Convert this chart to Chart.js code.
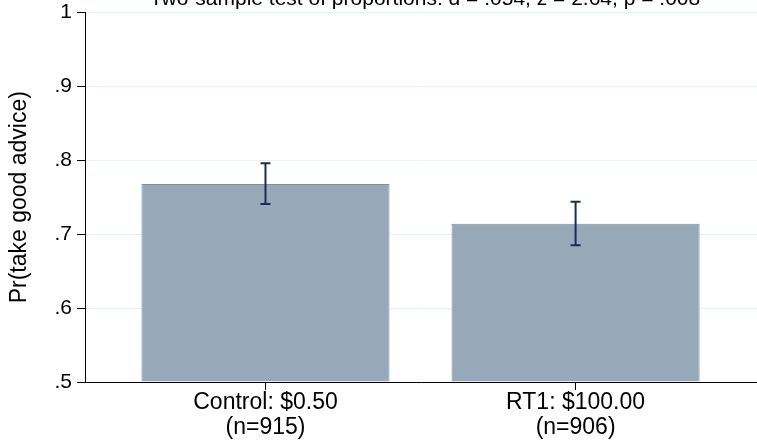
<!DOCTYPE html>
<html>
<head>
<meta charset="utf-8">
<title>Pr(take good advice)</title>
<script src="https://cdn.jsdelivr.net/npm/chart.js@4"></script>
<style>
  html, body { margin: 0; padding: 0; background: #fff; }
  #wrap { width: 757px; height: 441px; }
</style>
</head>
<body>
<div id="wrap"><canvas id="chart" width="757" height="441"></canvas></div>
<script>
// data
const groups = [["Control: $0.50", "(n=915)"], ["RT1: $100.00", "(n=906)"]];
const positions = [1, 2];
const shares = [0.768, 0.714];
const ciLow = [0.741, 0.685];
const ciHigh = [0.796, 0.744];
const yTicks = [0.5, 0.6, 0.7, 0.8, 0.9, 1];
const titleText = "Two-sample test of proportions: d = .054, z = 2.64, p = .008";

const font = "'Liberation Sans', Arial, sans-serif";

// error bars on top of the bars
const ciBars = {
  id: 'ciBars',
  afterDatasetsDraw(chart) {
    const { ctx, scales: { x, y } } = chart;
    ctx.save();
    ctx.strokeStyle = '#1c2d50';
    ctx.lineWidth = 2;
    positions.forEach((p, i) => {
      const px = x.getPixelForValue(p);
      const top = y.getPixelForValue(ciHigh[i]);
      const bot = y.getPixelForValue(ciLow[i]);
      ctx.beginPath();
      ctx.moveTo(px, top); ctx.lineTo(px, bot);
      ctx.moveTo(px - 5, top); ctx.lineTo(px + 5, top);
      ctx.moveTo(px - 5, bot); ctx.lineTo(px + 5, bot);
      ctx.stroke();
    });
    ctx.restore();
  }
};

// title that sits half off the top edge
const cutTitle = {
  id: 'cutTitle',
  afterDraw(chart) {
    const { ctx, chartArea } = chart;
    ctx.save();
    ctx.fillStyle = '#000';
    ctx.font = "21px " + font;
    ctx.textAlign = 'center';
    ctx.textBaseline = 'alphabetic';
    ctx.fillText(titleText, (chartArea.left + chartArea.right) / 2 + 4, 5);
    ctx.restore();
  }
};

new Chart(document.getElementById('chart'), {
  type: 'bar',
  data: {
    datasets: [{
      data: positions.map((p, i) => ({ x: p, y: shares[i] })),
      backgroundColor: '#97a8b8',
      borderColor: '#7d91a6',
      borderWidth: 1,
      barPercentage: 0.8,
      categoryPercentage: 1,
      base: 0.5
    }]
  },
  options: {
    responsive: false,
    animation: false,
    layout: { padding: { top: 12.5, right: 0, left: 0, bottom: 0 } },
    plugins: { legend: { display: false }, tooltip: { enabled: false }, title: { display: false } },
    scales: {
      x: {
        type: 'linear',
        offset: false,
        min: 0.418,
        max: 2.585,
        afterBuildTicks(scale) { scale.ticks = positions.map(v => ({ value: v })); },
        afterFit(scale) { scale.height = 59; },
        ticks: {
          autoSkip: false,
          maxRotation: 0,
          color: '#000',
          padding: 1,
          font: { family: font, size: 23, lineHeight: 1.05 },
          callback(v) { const i = positions.indexOf(v); return i >= 0 ? groups[i] : ''; }
        },
        grid: { display: true, offset: false, drawOnChartArea: false, drawTicks: true, tickLength: 8, color: '#000', tickColor: '#000', tickWidth: 1 },
        border: { display: true, color: '#000', width: 1 }
      },
      y: {
        min: 0.5,
        max: 1,
        afterBuildTicks(scale) { scale.ticks = yTicks.map(v => ({ value: v })); },
        afterFit(scale) { scale.width = 85; },
        ticks: {
          color: '#000',
          padding: 5,
          font: { family: font, size: 21, lineHeight: 0.6 },
          callback(v) { return v === 1 ? '1' : String(Math.round(v * 10) / 10).replace(/^0/, ''); }
        },
        grid: {
          color: ctx => (ctx.tick && ctx.tick.value === 0.5) ? 'rgba(0,0,0,0)' : '#e8f0f1',
          tickColor: '#000',
          tickLength: 8,
          lineWidth: 1
        },
        border: { display: true, color: '#000', width: 1 },
        title: {
          display: true,
          text: 'Pr(take good advice)',
          color: '#000',
          font: { family: font, size: 23 },
          padding: { top: 6, bottom: 0 }
        }
      }
    }
  },
  plugins: [ciBars, cutTitle]
});
</script>
</body>
</html>
